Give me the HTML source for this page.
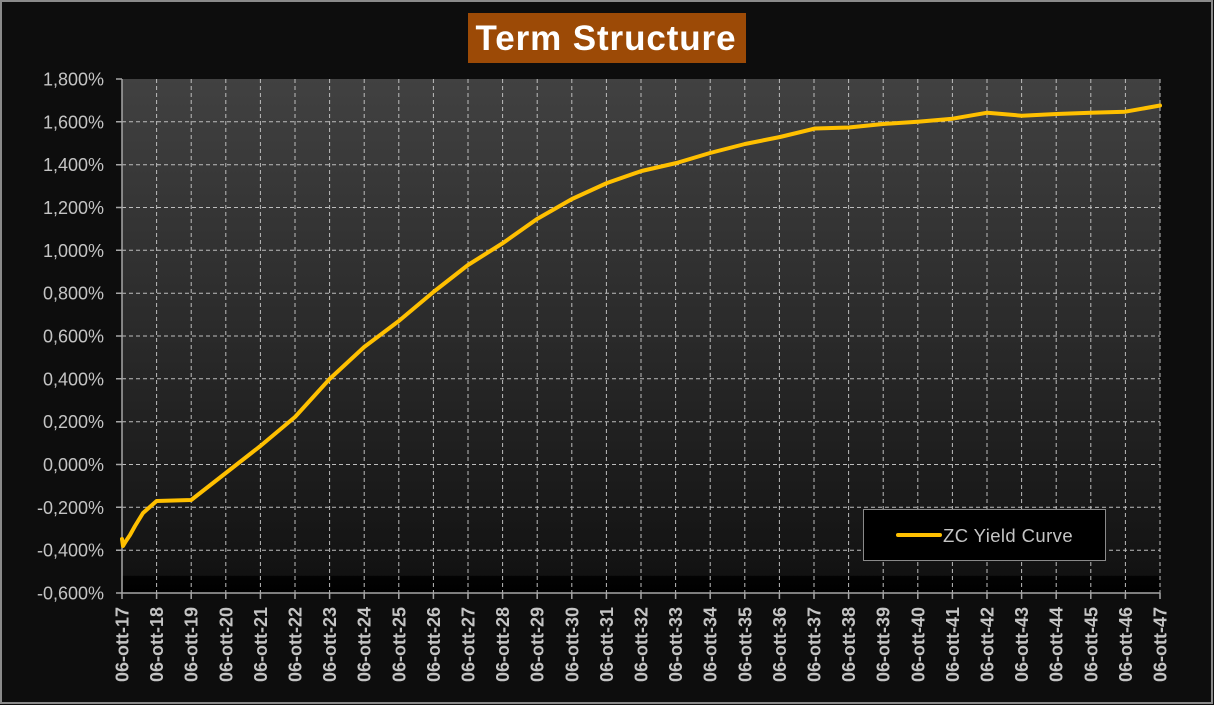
<!DOCTYPE html>
<html><head><meta charset="utf-8"><style>
html,body{margin:0;padding:0;background:#0d0d0d;}
svg{display:block;}
</style></head><body>
<svg width="1214" height="705" viewBox="0 0 1214 705" xmlns="http://www.w3.org/2000/svg" font-family="Liberation Sans, Arial, sans-serif">
<defs>
<linearGradient id="pg" x1="0" y1="0" x2="0" y2="1">
<stop offset="0" stop-color="#414141"/>
<stop offset="0.5" stop-color="#2a2a2a"/>
<stop offset="0.966" stop-color="#121212"/>
<stop offset="0.967" stop-color="#030303"/>
<stop offset="1" stop-color="#000"/>
</linearGradient>
</defs>
<rect x="0" y="0" width="1214" height="705" fill="#0d0d0d"/>
<rect x="1" y="1" width="1211" height="702" fill="none" stroke="#8a8a8a" stroke-width="2"/>
<!-- title -->
<rect x="468" y="13" width="278" height="50" fill="#9c4a06"/>
<text x="606" y="50" text-anchor="middle" font-size="35" font-weight="bold" fill="#ffffff" letter-spacing="0.9">Term Structure</text>
<!-- plot area -->
<rect x="122" y="79" width="1038" height="514" fill="url(#pg)"/>
<g stroke="#bdbdbd" stroke-width="1" stroke-dasharray="4,3">
<line x1="122" y1="121.8" x2="1160" y2="121.8"/>
<line x1="122" y1="164.7" x2="1160" y2="164.7"/>
<line x1="122" y1="207.5" x2="1160" y2="207.5"/>
<line x1="122" y1="250.3" x2="1160" y2="250.3"/>
<line x1="122" y1="293.2" x2="1160" y2="293.2"/>
<line x1="122" y1="336" x2="1160" y2="336"/>
<line x1="122" y1="378.8" x2="1160" y2="378.8"/>
<line x1="122" y1="421.7" x2="1160" y2="421.7"/>
<line x1="122" y1="464.5" x2="1160" y2="464.5"/>
<line x1="122" y1="507.3" x2="1160" y2="507.3"/>
<line x1="122" y1="550.2" x2="1160" y2="550.2"/>
</g>
<g stroke="#bdbdbd" stroke-width="1" stroke-dasharray="4,3">
<line x1="156.6" y1="79" x2="156.6" y2="593"/><line x1="191.2" y1="79" x2="191.2" y2="593"/><line x1="225.8" y1="79" x2="225.8" y2="593"/><line x1="260.4" y1="79" x2="260.4" y2="593"/><line x1="295" y1="79" x2="295" y2="593"/><line x1="329.6" y1="79" x2="329.6" y2="593"/><line x1="364.2" y1="79" x2="364.2" y2="593"/><line x1="398.8" y1="79" x2="398.8" y2="593"/><line x1="433.4" y1="79" x2="433.4" y2="593"/><line x1="468" y1="79" x2="468" y2="593"/><line x1="502.6" y1="79" x2="502.6" y2="593"/><line x1="537.2" y1="79" x2="537.2" y2="593"/><line x1="571.8" y1="79" x2="571.8" y2="593"/><line x1="606.4" y1="79" x2="606.4" y2="593"/><line x1="641" y1="79" x2="641" y2="593"/><line x1="675.6" y1="79" x2="675.6" y2="593"/><line x1="710.2" y1="79" x2="710.2" y2="593"/><line x1="744.8" y1="79" x2="744.8" y2="593"/><line x1="779.4" y1="79" x2="779.4" y2="593"/><line x1="814" y1="79" x2="814" y2="593"/><line x1="848.6" y1="79" x2="848.6" y2="593"/><line x1="883.2" y1="79" x2="883.2" y2="593"/><line x1="917.8" y1="79" x2="917.8" y2="593"/><line x1="952.4" y1="79" x2="952.4" y2="593"/><line x1="987" y1="79" x2="987" y2="593"/><line x1="1021.6" y1="79" x2="1021.6" y2="593"/><line x1="1056.2" y1="79" x2="1056.2" y2="593"/><line x1="1090.8" y1="79" x2="1090.8" y2="593"/><line x1="1125.4" y1="79" x2="1125.4" y2="593"/><line x1="1160" y1="79" x2="1160" y2="593"/>
</g>
<!-- axes -->
<g stroke="#a6a6a6" stroke-width="1.5" fill="none">
<line x1="122" y1="79" x2="122" y2="593"/>
<line x1="116" y1="593" x2="1160" y2="593"/>
<path d="M116 79H122M116 121.8H122M116 164.7H122M116 207.5H122M116 250.3H122M116 293.2H122M116 336H122M116 378.8H122M116 421.7H122M116 464.5H122M116 507.3H122M116 550.2H122"/>
<path d="M122 593V599M156.6 593V599M191.2 593V599M225.8 593V599M260.4 593V599M295 593V599M329.6 593V599M364.2 593V599M398.8 593V599M433.4 593V599M468 593V599M502.6 593V599M537.2 593V599M571.8 593V599M606.4 593V599M641 593V599M675.6 593V599M710.2 593V599M744.8 593V599M779.4 593V599M814 593V599M848.6 593V599M883.2 593V599M917.8 593V599M952.4 593V599M987 593V599M1021.6 593V599M1056.2 593V599M1090.8 593V599M1125.4 593V599M1160 593V599"/>
</g>
<!-- y labels -->
<g font-size="18" fill="#c4c4c4" text-anchor="end">
<text x="104" y="85.5">1,800%</text>
<text x="104" y="128.3">1,600%</text>
<text x="104" y="171.2">1,400%</text>
<text x="104" y="214">1,200%</text>
<text x="104" y="256.8">1,000%</text>
<text x="104" y="299.7">0,800%</text>
<text x="104" y="342.5">0,600%</text>
<text x="104" y="385.3">0,400%</text>
<text x="104" y="428.2">0,200%</text>
<text x="104" y="471">0,000%</text>
<text x="104" y="513.8">-0,200%</text>
<text x="104" y="556.7">-0,400%</text>
<text x="104" y="599.5">-0,600%</text>
</g>
<!-- x labels -->
<g font-size="18" font-weight="bold" fill="#c4c4c4" text-anchor="end">
<text transform="translate(128.5,607) rotate(-90)">06-ott-17</text>
<text transform="translate(163.1,607) rotate(-90)">06-ott-18</text>
<text transform="translate(197.7,607) rotate(-90)">06-ott-19</text>
<text transform="translate(232.3,607) rotate(-90)">06-ott-20</text>
<text transform="translate(266.9,607) rotate(-90)">06-ott-21</text>
<text transform="translate(301.5,607) rotate(-90)">06-ott-22</text>
<text transform="translate(336.1,607) rotate(-90)">06-ott-23</text>
<text transform="translate(370.7,607) rotate(-90)">06-ott-24</text>
<text transform="translate(405.3,607) rotate(-90)">06-ott-25</text>
<text transform="translate(439.9,607) rotate(-90)">06-ott-26</text>
<text transform="translate(474.5,607) rotate(-90)">06-ott-27</text>
<text transform="translate(509.1,607) rotate(-90)">06-ott-28</text>
<text transform="translate(543.7,607) rotate(-90)">06-ott-29</text>
<text transform="translate(578.3,607) rotate(-90)">06-ott-30</text>
<text transform="translate(612.9,607) rotate(-90)">06-ott-31</text>
<text transform="translate(647.5,607) rotate(-90)">06-ott-32</text>
<text transform="translate(682.1,607) rotate(-90)">06-ott-33</text>
<text transform="translate(716.7,607) rotate(-90)">06-ott-34</text>
<text transform="translate(751.3,607) rotate(-90)">06-ott-35</text>
<text transform="translate(785.9,607) rotate(-90)">06-ott-36</text>
<text transform="translate(820.5,607) rotate(-90)">06-ott-37</text>
<text transform="translate(855.1,607) rotate(-90)">06-ott-38</text>
<text transform="translate(889.7,607) rotate(-90)">06-ott-39</text>
<text transform="translate(924.3,607) rotate(-90)">06-ott-40</text>
<text transform="translate(958.9,607) rotate(-90)">06-ott-41</text>
<text transform="translate(993.5,607) rotate(-90)">06-ott-42</text>
<text transform="translate(1028.1,607) rotate(-90)">06-ott-43</text>
<text transform="translate(1062.7,607) rotate(-90)">06-ott-44</text>
<text transform="translate(1097.3,607) rotate(-90)">06-ott-45</text>
<text transform="translate(1131.9,607) rotate(-90)">06-ott-46</text>
<text transform="translate(1166.5,607) rotate(-90)">06-ott-47</text>
</g>
<!-- curve -->
<polyline fill="none" stroke="#ffc000" stroke-width="4" stroke-linejoin="round" stroke-linecap="round"
points="122,539 123,546 126,541 130,535 135,526 143,513 156.6,501 191.2,500 225.8,473 260.4,446 295,417 329.6,379 364.2,347 398.8,321 433.4,292 468,265 503,243 537,219 572,199 607,183 641.5,171 676.5,163 710,153 745,144 780,137 815,128.5 848.7,127.5 883,124 917.8,121.7 952.5,118.7 987.3,112.7 1021.7,115.7 1056.5,114 1090.8,112.7 1125.3,111.7 1160,105.5"/>
<!-- legend -->
<rect x="863.5" y="509.5" width="242" height="51" fill="#000" stroke="#8a8a8a" stroke-width="1"/>
<line x1="898" y1="535" x2="940" y2="535" stroke="#ffc000" stroke-width="4" stroke-linecap="round"/>
<text x="943" y="542" font-size="18.5" fill="#c4c4c4" letter-spacing="0.4">ZC Yield Curve</text>
</svg>
</body></html>
